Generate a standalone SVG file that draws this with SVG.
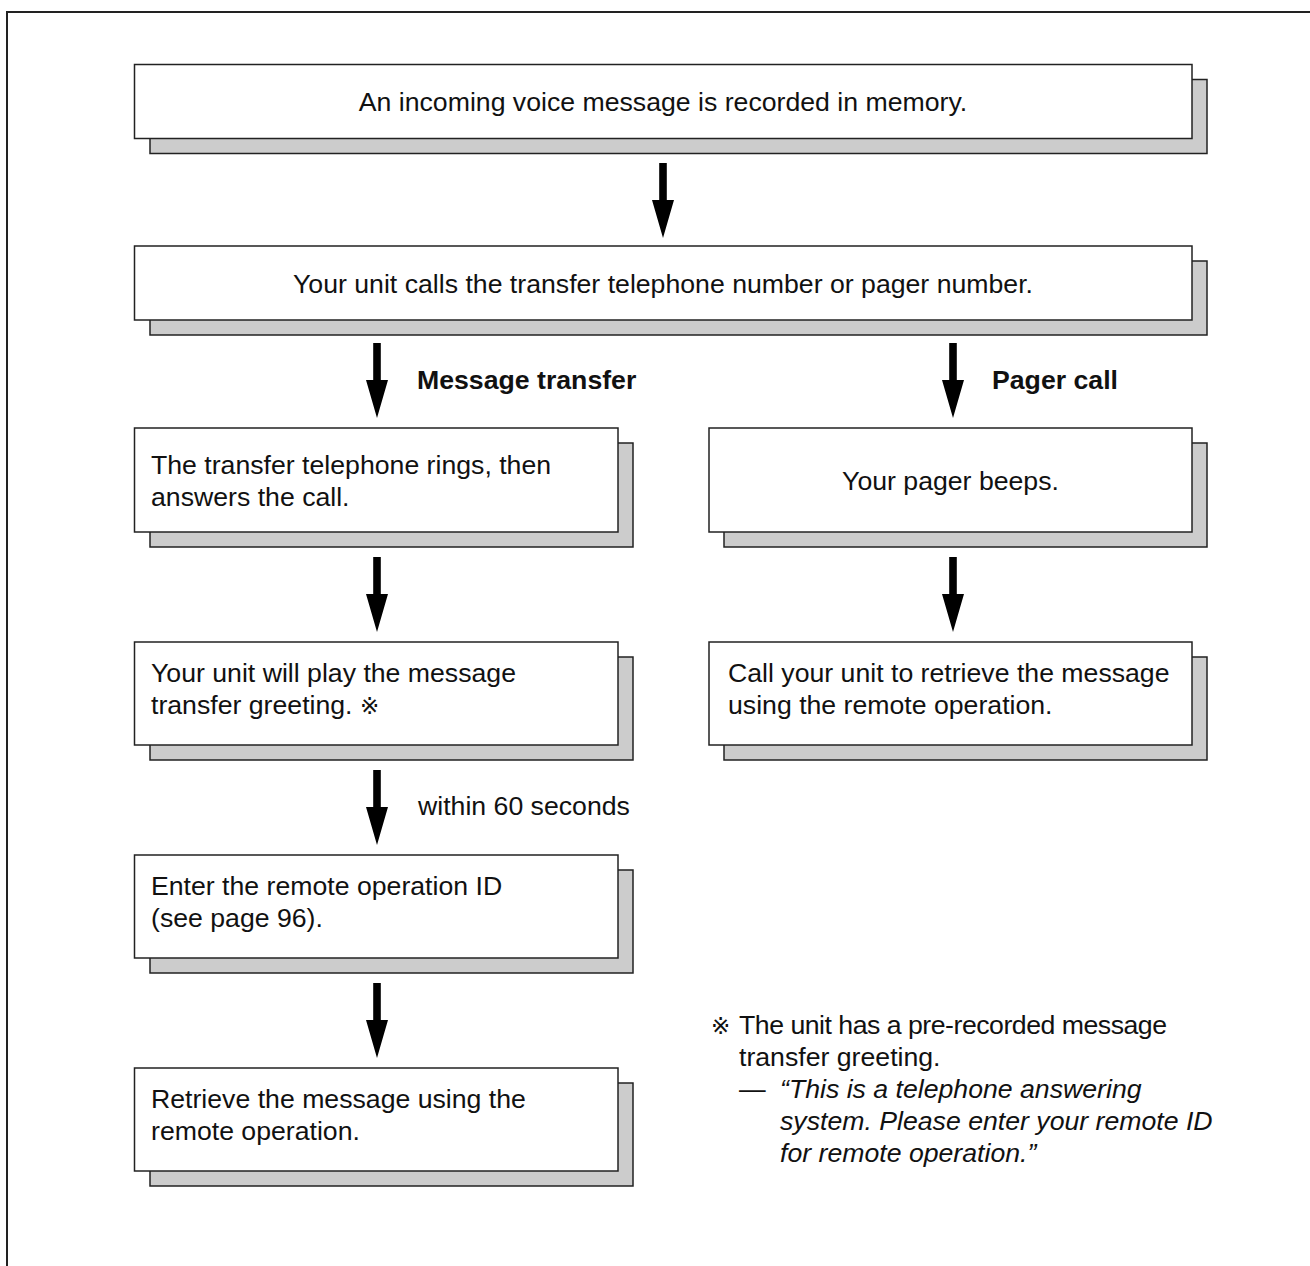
<svg xmlns="http://www.w3.org/2000/svg" width="1310" height="1266" viewBox="0 0 1310 1266">
<defs>
<style>
.box{fill:#fff;stroke:#222;stroke-width:1.5}
.sh{fill:#ccc;stroke:#222;stroke-width:1.5}
.t{font-family:"Liberation Sans",Arial,sans-serif;font-size:26.67px;fill:#111}
.c{text-anchor:middle}
.b{font-weight:bold}
.i{font-style:italic}
.k{font-family:"DejaVu Sans","Noto Sans CJK JP",sans-serif;font-size:23px}
.arr{fill:#000}
</style>
<path id="arrow" d="M-3.8,0 H3.8 V37 H11 L0,75 L-11,37 H-3.8 Z"/>
</defs>
<rect width="1310" height="1266" fill="#fff"/>
<path d="M7,1266 V12 H1310" fill="none" stroke="#222" stroke-width="2"/>

<g id="connectors">
<use href="#arrow" class="arr" x="663" y="163"/>
<use href="#arrow" class="arr" x="377" y="343"/>
<use href="#arrow" class="arr" x="953" y="343"/>
<use href="#arrow" class="arr" x="377" y="557"/>
<use href="#arrow" class="arr" x="953" y="557"/>
<use href="#arrow" class="arr" x="377" y="770"/>
<use href="#arrow" class="arr" x="377" y="983"/>
<text class="t b" x="417" y="389">Message transfer</text>
<text class="t b" x="992" y="389">Pager call</text>
<text class="t" x="418" y="815">within 60 seconds</text>
</g>

<g id="n1">
<rect class="sh" x="150" y="79.5" width="1057" height="74"/>
<rect class="box" x="134.5" y="64.5" width="1057.5" height="74"/>
<text class="t c" x="663" y="111">An incoming voice message is recorded in memory.</text>
</g>
<g id="n2">
<rect class="sh" x="150" y="261" width="1057" height="74"/>
<rect class="box" x="134.5" y="246" width="1057.5" height="74"/>
<text class="t c" x="663" y="293">Your unit calls the transfer telephone number or pager number.</text>
</g>
<g id="n3">
<rect class="sh" x="150" y="443" width="483" height="104"/>
<rect class="box" x="134.5" y="428" width="483.5" height="104"/>
<text class="t" x="151" y="474">The transfer telephone rings, then</text>
<text class="t" x="151" y="506">answers the call.</text>
</g>
<g id="n4">
<rect class="sh" x="724" y="443" width="483" height="104"/>
<rect class="box" x="709" y="428" width="483" height="104"/>
<text class="t c" x="950.5" y="490">Your pager beeps.</text>
</g>
<g id="n5">
<rect class="sh" x="150" y="657" width="483" height="103"/>
<rect class="box" x="134.5" y="642" width="483.5" height="103"/>
<text class="t" x="151" y="682">Your unit will play the message</text>
<text class="t" x="151" y="714">transfer greeting. <tspan class="k">※</tspan></text>
</g>
<g id="n6">
<rect class="sh" x="724" y="657" width="483" height="103"/>
<rect class="box" x="709" y="642" width="483" height="103"/>
<text class="t" x="728" y="682">Call your unit to retrieve the message</text>
<text class="t" x="728" y="714">using the remote operation.</text>
</g>
<g id="n7">
<rect class="sh" x="150" y="870" width="483" height="103"/>
<rect class="box" x="134.5" y="855" width="483.5" height="103"/>
<text class="t" x="151" y="895">Enter the remote operation ID</text>
<text class="t" x="151" y="927">(see page 96).</text>
</g>
<g id="n8">
<rect class="sh" x="150" y="1083" width="483" height="103"/>
<rect class="box" x="134.5" y="1068" width="483.5" height="103"/>
<text class="t" x="151" y="1108">Retrieve the message using the</text>
<text class="t" x="151" y="1140">remote operation.</text>
</g>

<g id="note">
<text class="t k" x="711" y="1034">※</text>
<text class="t" x="739" y="1034" textLength="428" lengthAdjust="spacing">The unit has a pre-recorded message</text>
<text class="t" x="739" y="1066">transfer greeting.</text>
<text class="t" x="739" y="1098">—</text>
<text class="t i" x="780" y="1098">“This is a telephone answering</text>
<text class="t i" x="780" y="1130">system. Please enter your remote ID</text>
<text class="t i" x="780" y="1162">for remote operation.”</text>
</g>
</svg>
